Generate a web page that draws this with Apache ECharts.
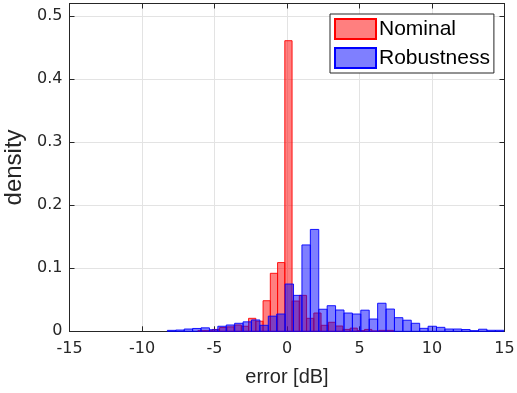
<!DOCTYPE html>
<html>
<head>
<meta charset="utf-8">
<script src="https://cdn.jsdelivr.net/npm/echarts@6/dist/echarts.min.js"></script>
<style>
  html, body { margin: 0; padding: 0; background: #fff; }
  #chart { width: 517px; height: 393px; }
</style>
</head>
<body>
<div id="chart"></div>
<script>
// histogram bins: start edge, bin width, density per bin
const nominalStart = -6.15;
const nominalWidth = 0.5;
const nominalDensity = [
  0.001, 0.001, 0.003, 0.006, 0.007, 0.010, 0.008, 0.0206, 0.016,
  0.0485, 0.092, 0.109, 0.461, 0.048, 0.057, 0.0206, 0.029, 0.0095,
  0.0143, 0.0084, 0.003, 0.005, 0.001, 0.003, 0.0005, 0.0015, 0.0015,
];

const robustStart = -8.25;
const robustWidth = 0.58;
const robustDensity = [
  0.0015, 0.002, 0.0036, 0.0045, 0.0055, 0.0025, 0.008, 0.010, 0.0127, 0.015,
  0.018, 0.0095, 0.024, 0.0274, 0.075, 0.057, 0.137, 0.1616, 0.035, 0.0406,
  0.0338, 0.029, 0.0274, 0.0335, 0.0195, 0.0445, 0.0353, 0.0216, 0.0176, 0.0127,
  0.0047, 0.008, 0.0063, 0.0036, 0.0036, 0.0028, 0.001, 0.0033, 0.0016, 0.0016,
];

const xTicks = [-15, 15, 5];
const yTicks = [0, 0.52, 0.1];

const ink = '#262626';
const font = 'Liberation Sans, Arial, Helvetica, sans-serif';
const tickFont = 'DejaVu Sans, sans-serif';

function toBins(start, width, values) {
  return values.map((v, i) => [start + i * width, start + (i + 1) * width, v]);
}

function renderBin(fill, stroke) {
  return function (params, api) {
    const p0 = api.coord([api.value(0), api.value(2)]);
    const p1 = api.coord([api.value(1), 0]);
    return {
      type: 'rect',
      shape: { x: p0[0], y: p0[1], width: p1[0] - p0[0], height: p1[1] - p0[1] },
      style: { fill: fill, stroke: stroke, lineWidth: 1 },
    };
  };
}

const chart = echarts.init(document.getElementById('chart'), null, { renderer: 'canvas' });

const axisLine = { show: true, onZero: false, lineStyle: { color: ink, width: 1 } };
const tick = { show: true, inside: true, length: 5, lineStyle: { color: ink } };

chart.setOption({
  animation: false,
  textStyle: { fontFamily: font },
  grid: { left: 69.5, right: 12.5, top: 3.5, bottom: 61.7, outerBoundsMode: 'none', containLabel: false },
  legend: {
    orient: 'vertical',
    left: 330,
    top: 14,
    padding: [4, 4, 4, 4],
    itemGap: 7,
    itemWidth: 41,
    itemHeight: 20,
    borderColor: ink,
    borderWidth: 1,
    backgroundColor: '#fff',
    textStyle: { fontSize: 21, color: '#000', fontFamily: font, padding: [0, 0, 0, -2] },
    data: [
      { name: 'Nominal', icon: 'rect' },
      { name: 'Robustness', icon: 'rect' },
    ],
  },
  xAxis: [
    {
      type: 'value',
      min: xTicks[0],
      max: xTicks[1],
      interval: xTicks[2],
      name: 'error [dB]',
      nameLocation: 'middle',
      nameGap: 36,
      nameTextStyle: { fontSize: 20, color: ink },
      axisLine: axisLine,
      axisTick: tick,
      axisLabel: { fontSize: 16, color: ink, margin: 10, fontFamily: tickFont },
      splitLine: { show: true, lineStyle: { color: '#e3e3e3' } },
    },
    {
      type: 'value',
      position: 'top',
      min: xTicks[0],
      max: xTicks[1],
      interval: xTicks[2],
      axisLine: axisLine,
      axisTick: tick,
      axisLabel: { show: false },
      splitLine: { show: false },
    },
  ],
  yAxis: [
    {
      type: 'value',
      min: yTicks[0],
      max: yTicks[1],
      interval: yTicks[2],
      name: 'density',
      nameLocation: 'middle',
      nameGap: 35,
      nameTextStyle: { fontSize: 24, color: ink },
      axisLine: axisLine,
      axisTick: tick,
      axisLabel: { fontSize: 16, color: ink, margin: 7, showMaxLabel: false, fontFamily: tickFont },
      splitLine: { show: true, lineStyle: { color: '#e3e3e3' } },
    },
    {
      type: 'value',
      position: 'right',
      min: yTicks[0],
      max: yTicks[1],
      interval: yTicks[2],
      axisLine: axisLine,
      axisTick: tick,
      axisLabel: { show: false },
      splitLine: { show: false },
    },
  ],
  series: [
    {
      name: 'Nominal',
      type: 'custom',
      renderItem: renderBin('rgba(255,0,0,0.5)', 'rgba(255,0,0,0.9)'),
      itemStyle: { color: 'rgba(255,0,0,0.5)', borderColor: '#ff0000', borderWidth: 1 },
      encode: { x: [0, 1], y: 2 },
      data: toBins(nominalStart, nominalWidth, nominalDensity),
      z: 2,
    },
    {
      name: 'Robustness',
      type: 'custom',
      renderItem: renderBin('rgba(0,0,255,0.5)', 'rgba(0,0,255,0.9)'),
      itemStyle: { color: 'rgba(0,0,255,0.5)', borderColor: '#0000ff', borderWidth: 1 },
      encode: { x: [0, 1], y: 2 },
      data: toBins(robustStart, robustWidth, robustDensity),
      z: 3,
    },
  ],
});
</script>
</body>
</html>
